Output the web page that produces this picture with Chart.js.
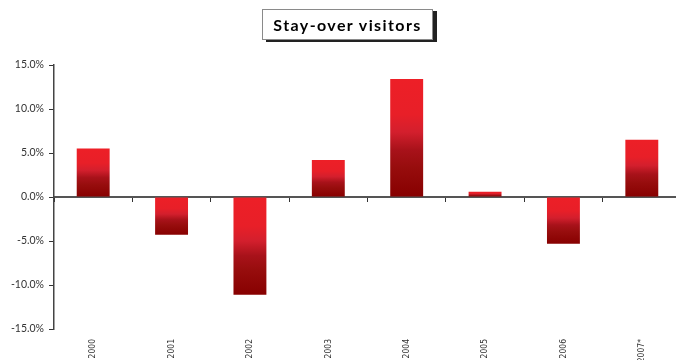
<!DOCTYPE html>
<html>
<head>
<meta charset="utf-8">
<script src="https://cdn.jsdelivr.net/npm/chart.js@4/dist/chart.umd.min.js"></script>
<style>
  html, body { margin: 0; padding: 0; background: #fff; overflow: hidden; }
  #wrap { position: relative; width: 682px; height: 360px; }
  #title {
    position: absolute; left: 262px; top: 9px; width: 169px; height: 29px;
    border: 1px solid #8a8a8a; box-shadow: 4px 2px 0 #222; background: #fff;
    font: bold 16px Lato, "Open Sans", sans-serif; color: #000;
    display: flex; align-items: center; justify-content: center; letter-spacing: 1.4px;
  }
</style>
</head>
<body>
<div id="wrap">
  <canvas id="chart" width="682" height="360"></canvas>
  <div id="title">Stay-over visitors</div>
</div>
<script>
const years = ["2000", "2001", "2002", "2003", "2004", "2005", "2006", "2007*"];
const growth = [5.5, -4.3, -11.1, 4.2, 13.4, 0.6, -5.3, 6.5];
const yTicks = [-15, -10, -5, 0, 5, 10, 15];

// red-to-maroon fill, bright at the top of each bar
function barFill(ctx) {
  const chart = ctx.chart;
  const y = chart.scales.y;
  if (!y || ctx.raw === undefined) return "#c8161d";
  const v = ctx.raw;
  const top = y.getPixelForValue(Math.max(v, 0));
  const bot = y.getPixelForValue(Math.min(v, 0));
  if (!isFinite(top) || !isFinite(bot) || bot - top < 1) return "#c8161d";
  const g = chart.ctx.createLinearGradient(0, top, 0, bot);
  g.addColorStop(0, "#ed1f27");
  g.addColorStop(0.3, "#e81f28");
  g.addColorStop(0.45, "#d31f2d");
  g.addColorStop(0.6, "#a8121a");
  g.addColorStop(0.75, "#970d0d");
  g.addColorStop(1, "#870000");
  return g;
}

new Chart(document.getElementById("chart"), {
  type: "bar",
  data: {
    labels: years,
    datasets: [{
      data: growth,
      xAxisID: "x",
      yAxisID: "y",
      backgroundColor: barFill,
      borderWidth: 0,
      categoryPercentage: 1,
      barPercentage: 0.42
    }]
  },
  options: {
    responsive: false,
    animation: false,
    layout: { padding: { top: 65, right: 1, left: 0, bottom: 0 } },
    plugins: { legend: { display: false }, tooltip: { enabled: false } },
    scales: {
      x: {
        type: "category",
        position: "bottom",
        grid: { display: false },
        border: { display: false },
        ticks: {
          minRotation: 90, maxRotation: 90, padding: 2,
          color: "#333",
          font: { family: "'DejaVu Sans Condensed', Roboto, sans-serif", size: 8.5 }
        },
        afterFit: (s) => { s.height = 31; }
      },
      xZero: {
        type: "category",
        axis: "x",
        position: { y: 0 },
        offset: true,
        ticks: { display: false },
        grid: { drawOnChartArea: false, offset: true, tickLength: 4, color: "#333", lineWidth: 1 },
        border: { color: "#555", width: 2 }
      },
      y: {
        min: -15, max: 15,
        afterBuildTicks: (s) => { s.ticks = yTicks.map((v) => ({ value: v })); },
        grid: { drawOnChartArea: false, drawTicks: true, tickLength: 5, color: "#333" },
        border: { color: "#444", width: 1.5 },
        ticks: {
          padding: 5,
          color: "#333",
          font: { family: "Lato, 'Open Sans', sans-serif", size: 10.5 },
          callback: (v) => v.toFixed(1) + "%"
        },
        afterFit: (s) => { s.width = 54; }
      }
    }
  }
});
</script>
</body>
</html>
